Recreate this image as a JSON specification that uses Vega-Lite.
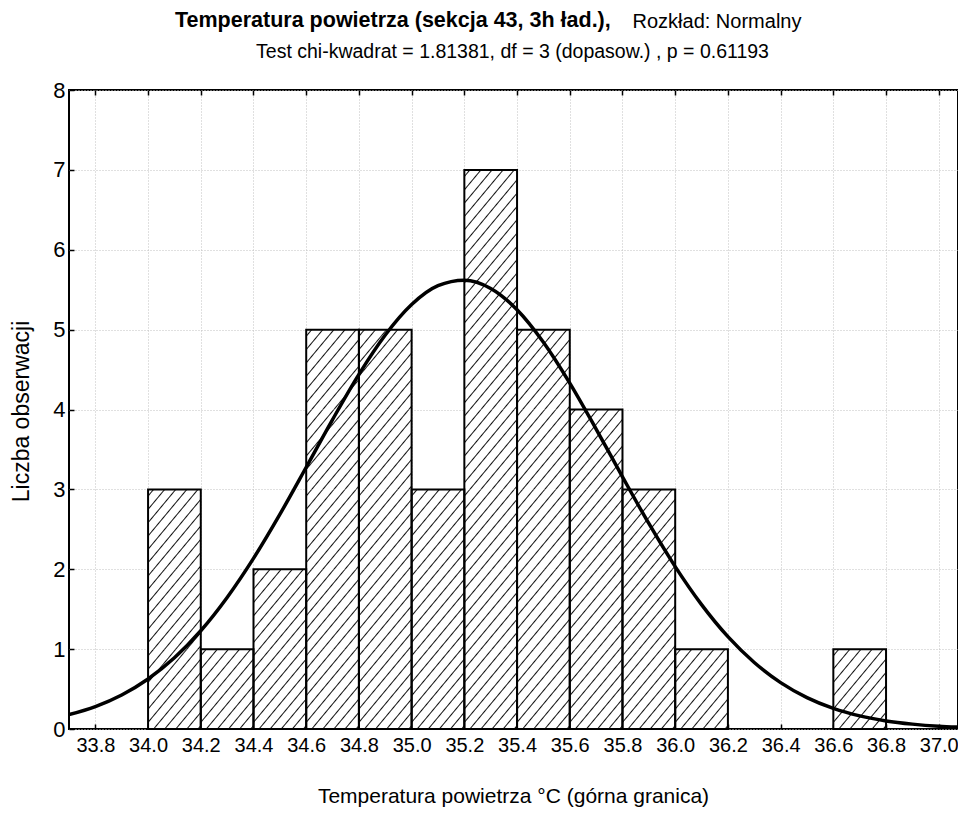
{
  "$schema": "https://vega.github.io/schema/vega-lite/v6.json",
  "width": 889,
  "height": 639,
  "autosize": {"type": "none"},
  "padding": {"left": 69, "top": 90, "right": 0, "bottom": 85},
  "background": "white",
  "config": {
    "font": "Liberation Sans, Arial, sans-serif",
    "view": {"stroke": "#000", "strokeWidth": 2},
    "axis": {
      "labelFont": "Liberation Sans, Arial, sans-serif",
      "titleFont": "Liberation Sans, Arial, sans-serif",
      "labelColor": "#000",
      "titleColor": "#000",
      "labelFontSize": 20,
      "titleFontSize": 21,
      "titleFontWeight": "normal",
      "domain": false,
      "tickColor": "#000",
      "tickWidth": 1.5,
      "tickSize": -5,
      "gridColor": "#c0c0c0",
      "gridDash": [1, 2],
      "gridWidth": 1,
      "labelFlush": false,
      "labelOverlap": false
    },
    "rect": {
      "fill": {
        "gradient": "linear", "x1": 0, "y1": 0, "x2": 0.87223, "y2": 1.10131,
        "stops": [
          {"offset": 0, "color": "#fff"},
          {"offset": 0.0355, "color": "#fff"}, {"offset": 0.0465, "color": "#111"}, {"offset": 0.0575, "color": "#fff"},
          {"offset": 0.1285, "color": "#fff"}, {"offset": 0.1395, "color": "#111"}, {"offset": 0.1505, "color": "#fff"},
          {"offset": 0.2215, "color": "#fff"}, {"offset": 0.2325, "color": "#111"}, {"offset": 0.2435, "color": "#fff"},
          {"offset": 0.3145, "color": "#fff"}, {"offset": 0.3255, "color": "#111"}, {"offset": 0.3365, "color": "#fff"},
          {"offset": 0.4075, "color": "#fff"}, {"offset": 0.4185, "color": "#111"}, {"offset": 0.4295, "color": "#fff"},
          {"offset": 0.5005, "color": "#fff"}, {"offset": 0.5115, "color": "#111"}, {"offset": 0.5225, "color": "#fff"},
          {"offset": 0.5935, "color": "#fff"}, {"offset": 0.6045, "color": "#111"}, {"offset": 0.6155, "color": "#fff"},
          {"offset": 0.6865, "color": "#fff"}, {"offset": 0.6975, "color": "#111"}, {"offset": 0.7085, "color": "#fff"},
          {"offset": 0.7795, "color": "#fff"}, {"offset": 0.7905, "color": "#111"}, {"offset": 0.8015, "color": "#fff"},
          {"offset": 0.8725, "color": "#fff"}, {"offset": 0.8835, "color": "#111"}, {"offset": 0.8945, "color": "#fff"},
          {"offset": 0.9655, "color": "#fff"}, {"offset": 0.9765, "color": "#111"}, {"offset": 0.9875, "color": "#fff"},
          {"offset": 1, "color": "#fff"}
        ]
      },
      "strokeWidth": 0
    }
  },
  "title": {
    "text": "Temperatura powietrza (sekcja 43, 3h ład.),",
    "anchor": "start",
    "frame": "group",
    "dx": 106,
    "offset": -20,
    "font": "Liberation Sans, Arial, sans-serif",
    "fontSize": 21.5,
    "fontWeight": "bold",
    "color": "#000"
  },
  "datasets": {
    "bars": [
      {"lo": 34.0, "hi": 34.2, "count": 3},
      {"lo": 34.2, "hi": 34.4, "count": 1},
      {"lo": 34.4, "hi": 34.6, "count": 2},
      {"lo": 34.6, "hi": 34.8, "count": 5},
      {"lo": 34.8, "hi": 35.0, "count": 5},
      {"lo": 35.0, "hi": 35.2, "count": 3},
      {"lo": 35.2, "hi": 35.4, "count": 7},
      {"lo": 35.4, "hi": 35.6, "count": 5},
      {"lo": 35.6, "hi": 35.8, "count": 4},
      {"lo": 35.8, "hi": 36.0, "count": 3},
      {"lo": 36.0, "hi": 36.2, "count": 1},
      {"lo": 36.6, "hi": 36.8, "count": 1}
    ],
    "curve": [
      {"x": 33.7, "f": 0.180}, {"x": 33.8, "f": 0.281}, {"x": 33.9, "f": 0.426}, {"x": 34.0, "f": 0.626},
      {"x": 34.1, "f": 0.891}, {"x": 34.2, "f": 1.230}, {"x": 34.3, "f": 1.647}, {"x": 34.4, "f": 2.136},
      {"x": 34.5, "f": 2.687}, {"x": 34.6, "f": 3.277}, {"x": 34.7, "f": 3.874}, {"x": 34.8, "f": 4.440},
      {"x": 34.9, "f": 4.933}, {"x": 35.0, "f": 5.314}, {"x": 35.1, "f": 5.550}, {"x": 35.2, "f": 5.619},
      {"x": 35.3, "f": 5.516}, {"x": 35.4, "f": 5.249}, {"x": 35.5, "f": 4.842}, {"x": 35.6, "f": 4.331},
      {"x": 35.7, "f": 3.755}, {"x": 35.8, "f": 3.157}, {"x": 35.9, "f": 2.573}, {"x": 36.0, "f": 2.033},
      {"x": 36.1, "f": 1.557}, {"x": 36.2, "f": 1.156}, {"x": 36.3, "f": 0.833}, {"x": 36.4, "f": 0.581},
      {"x": 36.5, "f": 0.393}, {"x": 36.6, "f": 0.258}, {"x": 36.7, "f": 0.164}, {"x": 36.8, "f": 0.101},
      {"x": 36.9, "f": 0.061}, {"x": 37.0, "f": 0.035}, {"x": 37.07, "f": 0.024}
    ]
  },
  "layer": [
    {
      "data": {"name": "bars"},
      "mark": {"type": "rect", "fill": "#fff", "strokeWidth": 0},
      "encoding": {
        "x": {
          "field": "lo", "type": "quantitative",
          "scale": {"domain": [33.7, 37.073], "nice": false, "zero": false},
          "axis": {
            "orient": "bottom",
            "values": [33.8, 34.0, 34.2, 34.4, 34.6, 34.8, 35.0, 35.2, 35.4, 35.6, 35.8, 36.0, 36.2, 36.4, 36.6, 36.8, 37.0],
            "format": ".1f",
            "grid": true,
            "labelPadding": 11,
            "title": "Temperatura powietrza °C (górna granica)",
            "titleX": 444,
            "titleY": 73,
            "titleAlign": "center",
            "titleBaseline": "alphabetic"
          }
        },
        "x2": {"field": "hi"},
        "y": {
          "field": "count", "type": "quantitative",
          "scale": {"domain": [0, 8], "nice": false, "zero": true},
          "axis": {
            "orient": "left",
            "values": [0, 1, 2, 3, 4, 5, 6, 7, 8],
            "format": "d",
            "grid": true,
            "labelPadding": 9,
            "labelFontSize": 22,
            "title": "Liczba obserwacji",
            "titleFontSize": 23,
            "titleX": -41,
            "titleY": 321,
            "titleAlign": "center",
            "titleBaseline": "alphabetic"
          }
        },
        "y2": {"datum": 0}
      }
    },
    {
      "data": {"name": "bars"},
      "transform": [{"filter": "datum.count >= 1"}],
      "mark": {"type": "rect"},
      "encoding": {
        "x": {"field": "lo", "type": "quantitative", "axis": null},
        "x2": {"field": "hi"},
        "y": {"datum": 0, "type": "quantitative", "axis": null},
        "y2": {"datum": 1}
      }
    },
    {
      "data": {"name": "bars"},
      "transform": [{"filter": "datum.count >= 2"}],
      "mark": {"type": "rect"},
      "encoding": {
        "x": {"field": "lo", "type": "quantitative", "axis": null},
        "x2": {"field": "hi"},
        "y": {"datum": 1, "type": "quantitative", "axis": null},
        "y2": {"datum": 2}
      }
    },
    {
      "data": {"name": "bars"},
      "transform": [{"filter": "datum.count >= 3"}],
      "mark": {"type": "rect"},
      "encoding": {
        "x": {"field": "lo", "type": "quantitative", "axis": null},
        "x2": {"field": "hi"},
        "y": {"datum": 2, "type": "quantitative", "axis": null},
        "y2": {"datum": 3}
      }
    },
    {
      "data": {"name": "bars"},
      "transform": [{"filter": "datum.count >= 4"}],
      "mark": {"type": "rect"},
      "encoding": {
        "x": {"field": "lo", "type": "quantitative", "axis": null},
        "x2": {"field": "hi"},
        "y": {"datum": 3, "type": "quantitative", "axis": null},
        "y2": {"datum": 4}
      }
    },
    {
      "data": {"name": "bars"},
      "transform": [{"filter": "datum.count >= 5"}],
      "mark": {"type": "rect"},
      "encoding": {
        "x": {"field": "lo", "type": "quantitative", "axis": null},
        "x2": {"field": "hi"},
        "y": {"datum": 4, "type": "quantitative", "axis": null},
        "y2": {"datum": 5}
      }
    },
    {
      "data": {"name": "bars"},
      "transform": [{"filter": "datum.count >= 6"}],
      "mark": {"type": "rect"},
      "encoding": {
        "x": {"field": "lo", "type": "quantitative", "axis": null},
        "x2": {"field": "hi"},
        "y": {"datum": 5, "type": "quantitative", "axis": null},
        "y2": {"datum": 6}
      }
    },
    {
      "data": {"name": "bars"},
      "transform": [{"filter": "datum.count >= 7"}],
      "mark": {"type": "rect"},
      "encoding": {
        "x": {"field": "lo", "type": "quantitative", "axis": null},
        "x2": {"field": "hi"},
        "y": {"datum": 6, "type": "quantitative", "axis": null},
        "y2": {"datum": 7}
      }
    },
    {
      "data": {"name": "bars"},
      "mark": {"type": "rect", "fill": "#fff", "fillOpacity": 0, "stroke": "#000", "strokeWidth": 2},
      "encoding": {
        "x": {
          "field": "lo", "type": "quantitative",
          "axis": {
            "orient": "top",
            "values": [33.8, 34.0, 34.2, 34.4, 34.6, 34.8, 35.0, 35.2, 35.4, 35.6, 35.8, 36.0, 36.2, 36.4, 36.6, 36.8, 37.0],
            "labels": false,
            "grid": false,
            "title": "Test chi-kwadrat = 1.81381, df = 3 (dopasow.) , p = 0.61193",
            "titleFontSize": 19.5,
            "titleX": 443,
            "titleY": -33,
            "titleAlign": "center",
            "titleBaseline": "alphabetic"
          }
        },
        "x2": {"field": "hi"},
        "y": {
          "field": "count", "type": "quantitative",
          "axis": {
            "orient": "right",
            "labels": false,
            "ticks": false,
            "grid": false,
            "title": "Rozkład: Normalny",
            "titleFontSize": 20,
            "titleAngle": 0,
            "titleX": -326,
            "titleY": -63,
            "titleAlign": "left",
            "titleBaseline": "alphabetic"
          }
        },
        "y2": {"datum": 0}
      }
    },
    {
      "data": {"name": "curve"},
      "mark": {"type": "line", "color": "#000", "strokeWidth": 3.5, "interpolate": "monotone", "clip": true},
      "encoding": {
        "x": {"field": "x", "type": "quantitative", "axis": null},
        "y": {"field": "f", "type": "quantitative", "axis": null}
      }
    }
  ],
  "resolve": {"axis": {"x": "independent", "y": "independent"}}
}
